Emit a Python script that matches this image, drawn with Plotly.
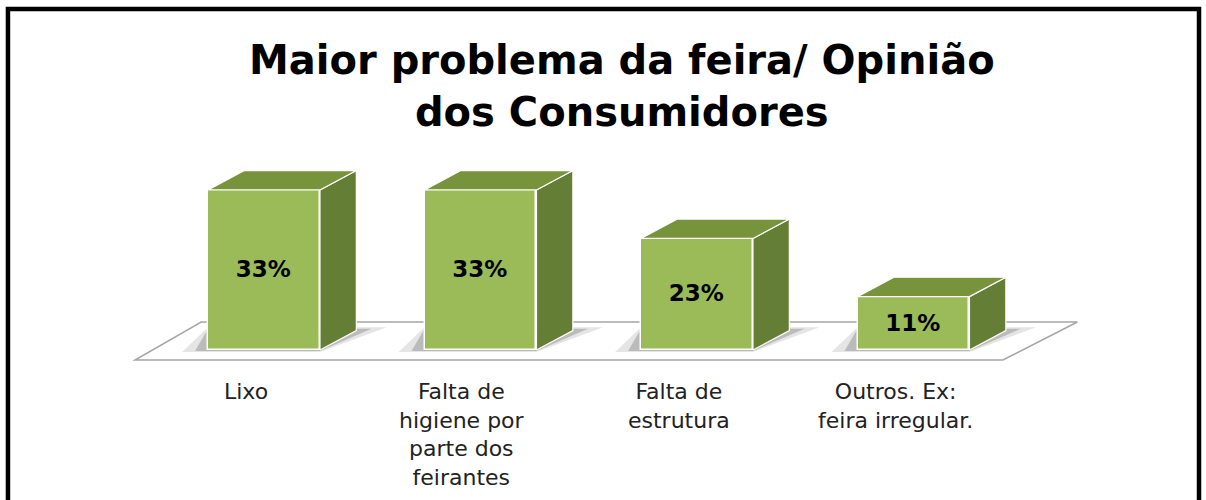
import plotly.graph_objects as go

categories = ["Lixo", "Falta de<br>higiene por<br>parte dos<br>feirantes", "Falta de<br>estrutura", "Outros. Ex:<br>feira irregular."]
values = [33, 33, 23, 11]
value_labels = ["33%", "33%", "23%", "11%"]
title_text = "<b>Maior problema da feira/ Opinião<br>dos Consumidores</b>"

# geometry (axis units)
W = 0.517      # bar front width (category units)
DX = 0.168     # depth offset in x
DY = 4.0       # depth offset in y (% units)
FRONT = "#9BBB59"
TOP = "#77933C"
SIDE = "#647F35"

x = list(range(len(categories)))

fig = go.Figure()

# front faces
fig.add_trace(go.Bar(
    x=x, y=values, width=W, base=0,
    marker=dict(color=FRONT, line=dict(color="white", width=1.5)),
    text=value_labels, textposition="inside", insidetextanchor="middle",
    textangle=0,
    textfont=dict(family="DejaVu Sans", size=23, color="black", weight="bold"),
    hoverinfo="skip", showlegend=False,
))

# side and top faces computed from the values
for xi, v in zip(x, values):
    xl, xr = xi - W / 2, xi + W / 2
    fig.add_trace(go.Scatter(
        x=[xr, xr + DX, xr + DX, xr, xr], y=[0, DY, v + DY, v, 0],
        fill="toself", fillcolor=SIDE, mode="lines",
        line=dict(color="white", width=1.2), hoverinfo="skip", showlegend=False))
    fig.add_trace(go.Scatter(
        x=[xl, xl + DX, xr + DX, xr, xl], y=[v, v + DY, v + DY, v, v],
        fill="toself", fillcolor=TOP, mode="lines",
        line=dict(color="white", width=1.2), hoverinfo="skip", showlegend=False))

# category labels
for xi, c in zip(x, categories):
    fig.add_annotation(x=xi - 0.085, y=-5.6, text=c, showarrow=False,
                       xanchor="center", yanchor="top",
                       font=dict(family="DejaVu Sans", size=22, color="#222222"))

# title
fig.add_annotation(xref="paper", yref="paper", x=0.516, y=1 - 86 / 500,
                   xanchor="center", yanchor="middle", showarrow=False,
                   text=title_text,
                   font=dict(family="DejaVu Sans", size=40, color="black"))

# floor (below traces)
fig.add_shape(type="path", xref="x", yref="y", layer="below",
              path="M -0.596,-2.06 L 3.413,-2.06 L 3.757,5.77 L -0.29,5.77 Z",
              fillcolor="white", line=dict(color="#A6A6A6", width=1.5))
# soft shadows at bar bases
for xi in x:
    xl, xr = xi - W / 2, xi + W / 2
    fig.add_shape(type="path", xref="x", yref="y", layer="below",
                  path=f"M {xl - 0.12},-0.4 L {xr},-0.4 L {xr + DX + 0.14},{DY + 0.7} L {xl},{DY + 0.7} Z",
                  fillcolor="rgba(150,150,150,0.25)", line=dict(width=0))
    fig.add_shape(type="path", xref="x", yref="y", layer="below",
                  path=f"M {xl - 0.06},-0.2 L {xr},-0.2 L {xr + DX + 0.07},{DY + 0.4} L {xl},{DY + 0.4} Z",
                  fillcolor="rgba(110,110,110,0.35)", line=dict(width=0))

# frame
fig.add_shape(type="path", xref="paper", yref="paper",
              path="M 0.0066,-0.1 L 0.0066,0.982 L 0.9942,0.982 L 0.9942,-0.1",
              line=dict(color="black", width=4.5))

fig.update_layout(
    width=1206, height=500,
    margin=dict(l=0, r=0, t=0, b=0),
    paper_bgcolor="white", plot_bgcolor="white",
    xaxis=dict(range=[-264 / 216.5, (1206 - 264) / 216.5], visible=False, fixedrange=True),
    yaxis=dict(range=[-150 / 4.85, 350 / 4.85], visible=False, fixedrange=True),
    bargap=0,
)

fig.write_html("out.html", config={"displayModeBar": False},
               post_script="document.body.style.margin='0';document.body.style.overflow='hidden';")
